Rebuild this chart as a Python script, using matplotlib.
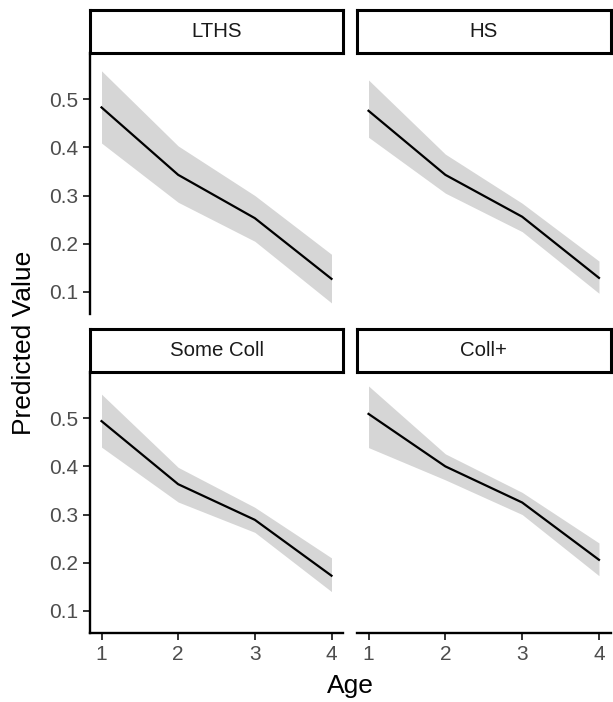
import matplotlib.pyplot as plt

plt.rcParams['font.family'] = ['Liberation Sans', 'DejaVu Sans']

ages = [1, 2, 3, 4]
groups = ['LTHS', 'HS', 'Some Coll', 'Coll+']

# predicted values with lower / upper confidence bounds, per education group
fit_lths = [0.483, 0.343, 0.253, 0.127]
low_lths = [0.409, 0.286, 0.205, 0.077]
high_lths = [0.559, 0.403, 0.300, 0.178]

fit_hs = [0.476, 0.343, 0.256, 0.129]
low_hs = [0.421, 0.305, 0.225, 0.097]
high_hs = [0.540, 0.386, 0.284, 0.164]

fit_some = [0.494, 0.363, 0.289, 0.173]
low_some = [0.440, 0.326, 0.263, 0.140]
high_some = [0.550, 0.398, 0.315, 0.210]

fit_coll = [0.509, 0.400, 0.325, 0.206]
low_coll = [0.439, 0.372, 0.300, 0.173]
high_coll = [0.567, 0.426, 0.346, 0.241]

fits = [fit_lths, fit_hs, fit_some, fit_coll]
lows = [low_lths, low_hs, low_some, low_coll]
highs = [high_lths, high_hs, high_some, high_coll]

W, H = 613, 702
fig = plt.figure(figsize=(W / 100, H / 100), dpi=100)


def px_axes(x0, y0, x1, y1):
    # box given in pixels from the top-left corner
    return fig.add_axes([x0 / W, 1 - y1 / H, (x1 - x0) / W, (y1 - y0) / H])


cols = [(90, 343), (357, 610.5)]
rows = [(53, 314), (372, 633)]
strips = [(10, 53), (329, 372)]

for i, name in enumerate(groups):
    r, c = divmod(i, 2)
    x0, x1 = cols[c]
    y0, y1 = rows[r]

    ax = px_axes(x0, y0, x1, y1)
    ax.fill_between(ages, lows[i], highs[i], color='#999999', alpha=0.4, linewidth=0)
    ax.plot(ages, fits[i], color='black', lw=1.6)
    ax.set_xlim(0.85, 4.15)
    ax.set_ylim(0.054, 0.596)
    ax.set_xticks(ages)
    ax.set_yticks([0.1, 0.2, 0.3, 0.4, 0.5])
    ax.set_yticklabels(['0.1', '0.2', '0.3', '0.4', '0.5'])

    for side in ['top', 'right', 'left', 'bottom']:
        ax.spines[side].set_visible(False)
    ax.tick_params(colors='#333333', labelcolor='#4D4D4D', labelsize=15,
                   length=5, width=1.4, pad=3.5, direction='out')

    if c == 0:
        ax.spines['left'].set_visible(True)
        ax.spines['left'].set_linewidth(1.7)
    else:
        ax.tick_params(axis='y', left=False, labelleft=False)
    if r == 1:
        ax.spines['bottom'].set_visible(True)
        ax.spines['bottom'].set_linewidth(1.7)
    else:
        ax.tick_params(axis='x', bottom=False, labelbottom=False)

    # facet strip
    sy0, sy1 = strips[r]
    sx = px_axes(x0, sy0, x1, sy1)
    sx.set_xticks([])
    sx.set_yticks([])
    for sp in sx.spines.values():
        sp.set_linewidth(2.2)
        sp.set_color('black')
    sx.text(0.5, 0.5, name, ha='center', va='center', fontsize=14.7,
            color='#1A1A1A', transform=sx.transAxes)

fig.text(24 / W, 1 - 343 / H, 'Predicted Value', rotation=90, ha='center',
         va='center', fontsize=19)
fig.text(350 / W, 1 - 686 / H, 'Age', ha='center', va='center', fontsize=19)

fig.savefig('out.png', dpi=100)
